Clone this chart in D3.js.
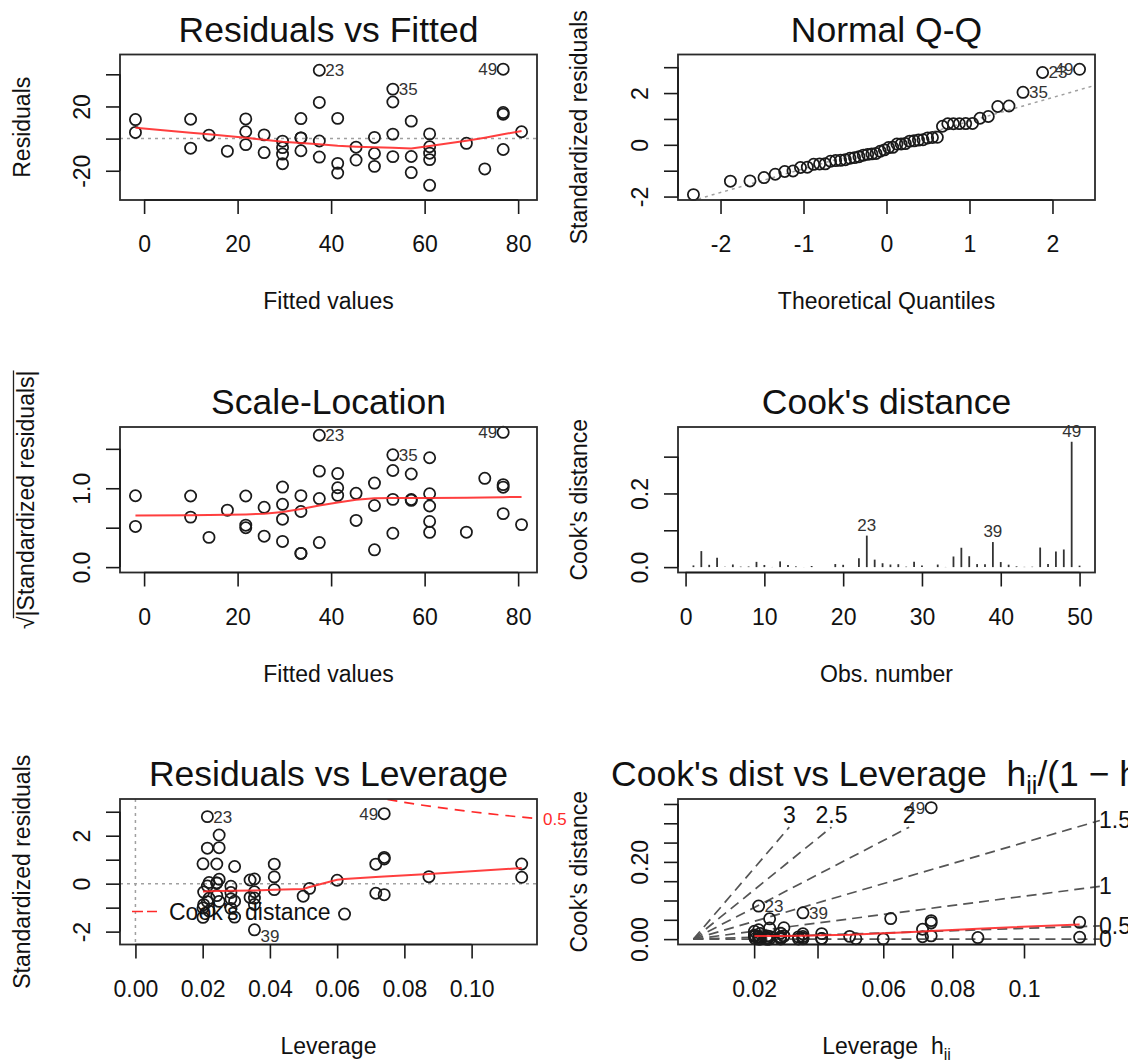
<!DOCTYPE html>
<html><head><meta charset="utf-8">
<script src="https://cdn.jsdelivr.net/npm/d3@7"></script>
<style>body{margin:0;background:#fff}svg{display:block}</style>
</head><body>
<script>
// ---------------- data: diagnostics of lm(dist ~ speed) on 50 observations ----------------
const obsNumber = [1,2,3,4,5,6,7,8,9,10,11,12,13,14,15,16,17,18,19,20,21,22,23,24,25,26,27,28,29,30,31,32,33,34,35,36,37,38,39,40,41,42,43,44,45,46,47,48,49,50];
const fittedValues = [-1.849,-1.849,9.948,9.948,13.880,17.813,21.745,21.745,21.745,25.677,25.677,29.610,29.610,29.610,29.610,33.542,33.542,33.542,33.542,37.475,37.475,37.475,37.475,41.407,41.407,41.407,45.339,45.339,49.272,49.272,49.272,53.204,53.204,53.204,53.204,57.137,57.137,57.137,61.069,61.069,61.069,61.069,61.069,68.934,72.866,76.799,76.799,76.799,76.799,80.731];
const residuals = [3.849,11.849,-5.948,12.052,2.120,-7.813,-3.745,4.255,12.255,-8.677,2.323,-15.610,-9.610,-5.610,-1.610,-7.542,0.458,0.458,12.458,-11.475,-1.475,22.525,42.525,-21.407,-15.407,12.593,-13.339,-5.339,-17.272,-9.272,0.728,-11.204,2.796,22.796,30.796,-21.137,-11.137,10.863,-29.069,-13.069,-9.069,-5.069,2.931,-2.934,-18.866,-6.799,15.201,16.201,43.201,4.269];
const stdResiduals = [0.266,0.819,-0.401,0.813,0.142,-0.521,-0.249,0.283,0.814,-0.574,0.154,-1.030,-0.634,-0.370,-0.106,-0.496,0.030,0.030,0.820,-0.754,-0.097,1.481,2.795,-1.406,-1.012,0.827,-0.876,-0.351,-1.136,-0.610,0.048,-0.738,0.184,1.501,2.028,-1.395,-0.735,0.717,-1.925,-0.865,-0.600,-0.336,0.194,-0.196,-1.267,-0.459,1.027,1.095,2.919,0.291];
const sqrtAbsStdResiduals = [0.516,0.905,0.634,0.902,0.377,0.722,0.499,0.532,0.902,0.758,0.392,1.015,0.796,0.608,0.326,0.705,0.174,0.174,0.906,0.869,0.311,1.217,1.672,1.186,1.006,0.910,0.936,0.592,1.066,0.781,0.219,0.859,0.429,1.225,1.424,1.181,0.857,0.847,1.387,0.930,0.775,0.579,0.441,0.443,1.126,0.678,1.014,1.046,1.709,0.539];
const leverage = [0.1149,0.1149,0.0715,0.0715,0.0600,0.0499,0.0413,0.0413,0.0413,0.0341,0.0341,0.0284,0.0284,0.0284,0.0284,0.0242,0.0242,0.0242,0.0242,0.0214,0.0214,0.0214,0.0214,0.0201,0.0201,0.0201,0.0203,0.0203,0.0219,0.0219,0.0219,0.0249,0.0249,0.0249,0.0249,0.0295,0.0295,0.0295,0.0354,0.0354,0.0354,0.0354,0.0354,0.0518,0.0622,0.0740,0.0740,0.0740,0.0740,0.0873];
const leverageRatio = [0.1298,0.1298,0.0770,0.0770,0.0638,0.0525,0.0431,0.0431,0.0431,0.0353,0.0353,0.0293,0.0293,0.0293,0.0293,0.0248,0.0248,0.0248,0.0248,0.0219,0.0219,0.0219,0.0219,0.0205,0.0205,0.0205,0.0207,0.0207,0.0224,0.0224,0.0224,0.0256,0.0256,0.0256,0.0256,0.0304,0.0304,0.0304,0.0368,0.0368,0.0368,0.0368,0.0368,0.0546,0.0663,0.0799,0.0799,0.0799,0.0799,0.0956];
const cooksDistance = [0.00459,0.04351,0.00620,0.02547,0.00064,0.00713,0.00133,0.00172,0.01426,0.00582,0.00042,0.01552,0.00588,0.00200,0.00017,0.00306,0.00001,0.00001,0.00834,0.00623,0.00010,0.02400,0.08555,0.02030,0.01051,0.00702,0.00794,0.00127,0.01442,0.00416,0.00003,0.00696,0.00043,0.02881,0.05257,0.02953,0.00820,0.00780,0.06806,0.01376,0.00662,0.00207,0.00069,0.00105,0.05317,0.00843,0.04214,0.04787,0.34040,0.00403];

// Normal Q-Q (sorted)
const qqTheoretical = [-2.3263,-1.8808,-1.6449,-1.4758,-1.3408,-1.2265,-1.1264,-1.0364,-0.9542,-0.8779,-0.8064,-0.7388,-0.6745,-0.6128,-0.5534,-0.4959,-0.4399,-0.3853,-0.3319,-0.2793,-0.2275,-0.1764,-0.1257,-0.0753,-0.0251,0.0251,0.0753,0.1257,0.1764,0.2275,0.2793,0.3319,0.3853,0.4399,0.4959,0.5534,0.6128,0.6745,0.7388,0.8064,0.8779,0.9542,1.0364,1.1264,1.2265,1.3408,1.4758,1.6449,1.8808,2.3263];
const qqSample = [-1.925,-1.406,-1.395,-1.267,-1.136,-1.030,-1.012,-0.876,-0.865,-0.754,-0.738,-0.735,-0.634,-0.610,-0.600,-0.574,-0.521,-0.496,-0.459,-0.401,-0.370,-0.351,-0.336,-0.249,-0.196,-0.106,-0.097,0.030,0.030,0.048,0.142,0.154,0.184,0.194,0.266,0.283,0.291,0.717,0.813,0.814,0.819,0.820,0.827,1.027,1.095,1.481,1.501,2.028,2.795,2.919];
const qqSampleObs = {47: 35, 48: 23, 49: 49};
const qqLineX = [-2.5124, 2.5124];
const qqLineY = [-2.3148, 2.2974];

// smoothers (red lines)
const smoothFittedX = [-1.849,9.948,13.880,17.813,21.745,25.677,29.610,33.542,37.475,41.407,45.339,49.272,53.204,57.137,61.069,68.934,72.866,76.799,80.731];
const smoothResiduals = [6.8,3.7,2.7,1.6,0.5,-0.7,-1.9,-2.7,-3.5,-4.4,-5.0,-5.4,-5.7,-6.1,-4.6,-1.3,0.6,2.7,4.7];
const smoothScale = [0.655,0.657,0.660,0.664,0.668,0.677,0.700,0.737,0.780,0.820,0.855,0.872,0.875,0.876,0.877,0.881,0.884,0.887,0.890];
const smoothLeverageX = [0.0201,0.0203,0.0214,0.0219,0.0242,0.0249,0.0284,0.0295,0.0341,0.0354,0.0413,0.0499,0.0518,0.0600,0.0622,0.0715,0.0740,0.0873,0.1149];
const smoothLeverageY = [-0.33,-0.33,-0.32,-0.32,-0.31,-0.31,-0.30,-0.30,-0.28,-0.28,-0.25,-0.22,-0.14,0.16,0.19,0.28,0.30,0.40,0.65];
const smoothRatioX = [0.0205,0.0207,0.0219,0.0224,0.0248,0.0256,0.0293,0.0304,0.0353,0.0368,0.0431,0.0525,0.0546,0.0638,0.0663,0.0770,0.0799,0.0956,0.1298];
const smoothRatioY = [0.008,0.008,0.008,0.008,0.008,0.008,0.008,0.008,0.009,0.009,0.010,0.011,0.012,0.015,0.016,0.020,0.021,0.027,0.038];

// Cook's distance 0.5 contour in residuals vs leverage
const cookContourH = [0.0700,0.0742,0.0800,0.0850,0.0900,0.0950,0.1000,0.1050,0.1100,0.1150,0.1195];
const cookContourR = [3.645,3.531,3.391,3.281,3.180,3.087,3.000,2.920,2.844,2.774,2.714];
const cookContourLabel = "0.5";
// standardized residual contours in Cook's dist vs leverage
const contourLevels = [0,0.5,1,1.5,2,2.5,3];
const contourSegmentEnd = 0.29;
const contourTopLabelD = 0.321;

// axis ticks and labels
const fittedTicks = [0,20,40,60,80], fittedTickLabels = ["0","20","40","60","80"];
const residTicks = [-20,0,20,40], residTickLabels = ["-20","","20",""];
const qqXTicks = [-2,-1,0,1,2], qqXTickLabels = ["-2","-1","0","1","2"];
const stdTicks = [-2,-1,0,1,2,3], stdTickLabels = ["-2","","0","","2",""];
const scaleTicks = [0,0.5,1,1.5], scaleTickLabels = ["0.0","","1.0",""];
const obsTicks = [0,10,20,30,40,50], obsTickLabels = ["0","10","20","30","40","50"];
const cookTicks = [0,0.1,0.2,0.3], cookTickLabels = ["0.0","","0.2",""];
const levTicks = [0,0.02,0.04,0.06,0.08,0.10], levTickLabels = ["0.00","0.02","0.04","0.06","0.08","0.10"];
const ratioTickPos = [0.0204,0.0417,0.0638,0.0870,0.1111], ratioTickLabels = ["0.02","","0.06","0.08","0.1"];
const cook6Ticks = [0,0.05,0.10,0.15,0.20,0.25,0.30,0.35], cook6TickLabels = ["0.00","","","","0.20","","",""];

// ---------------- layout ----------------
const W = 1128, H = 1061;
const FONT = "'Liberation Sans', Arial, Helvetica, sans-serif";
const cols = [{x0:120, x1:537}, {x0:678, x1:1095}];
const rows = [{y0:54.5, y1:200}, {y0:427, y1:572.5}, {y0:799, y1:944.5}];
const INK = "#1a1a1a", RED = "#ff2a2a", GRAY = "#a0a0a0";
const TITLE_SIZE = 35.5;

const svg = d3.select("body").append("svg").attr("width", W).attr("height", H)
  .style("font-family", FONT);
const defs = svg.append("defs");

function panel(col, row, xDom, yDom, id, extraRight) {
  const c = cols[col], r = rows[row];
  const x = d3.scaleLinear().domain(xDom).range([c.x0, c.x1]);
  const y = d3.scaleLinear().domain(yDom).range([r.y1, r.y0]);
  defs.append("clipPath").attr("id", id).append("rect")
    .attr("x", c.x0).attr("y", r.y0).attr("width", c.x1 - c.x0 + (extraRight || 0)).attr("height", r.y1 - r.y0);
  const g = svg.append("g");
  return {x, y, c, r, g, clip: `url(#${id})`};
}

function axes(p, xt, xl, yt, yl) {
  const xa = p.g.append("g").attr("transform", `translate(0,${p.r.y1})`)
    .call(d3.axisBottom(p.x).tickValues(xt).tickFormat((d, i) => xl[i]).tickSize(14).tickSizeOuter(0));
  xa.select(".domain").remove();
  xa.attr("font-size", 23).attr("font-family", FONT);
  xa.selectAll("line").attr("stroke", INK).attr("stroke-width", 1.6);
  xa.selectAll("text").attr("y", 52).attr("dy", null).attr("fill", "#111");
  const ya = p.g.append("g").attr("transform", `translate(${p.c.x0},0)`)
    .call(d3.axisLeft(p.y).tickValues(yt).tickFormat((d, i) => yl[i]).tickSize(14).tickSizeOuter(0));
  ya.select(".domain").remove();
  ya.attr("font-size", 23).attr("font-family", FONT);
  ya.selectAll("line").attr("stroke", INK).attr("stroke-width", 1.6);
  ya.selectAll("text").attr("transform", "rotate(-90)").attr("x", 0).attr("y", -30)
    .attr("dy", null).attr("text-anchor", "middle").attr("fill", "#111");
  p.g.append("line").attr("x1", p.x(xt[0])).attr("x2", p.x(xt[xt.length-1]))
    .attr("y1", p.r.y1).attr("y2", p.r.y1).attr("stroke", INK).attr("stroke-width", 1.6);
  p.g.append("line").attr("y1", p.y(yt[0])).attr("y2", p.y(yt[yt.length-1]))
    .attr("x1", p.c.x0).attr("x2", p.c.x0).attr("stroke", INK).attr("stroke-width", 1.6);
}

function box(p) {
  p.g.append("rect").attr("x", p.c.x0).attr("y", p.r.y0)
    .attr("width", p.c.x1 - p.c.x0).attr("height", p.r.y1 - p.r.y0)
    .attr("fill", "none").attr("stroke", "#2a2a2a").attr("stroke-width", 1.8);
}

function mainTitle(p, txt) {
  return p.g.append("text").attr("x", (p.c.x0 + p.c.x1) / 2).attr("y", p.r.y0 - 13)
    .attr("text-anchor", "middle").attr("font-size", TITLE_SIZE).attr("fill", "#111").text(txt);
}
function xTitle(p, txt) {
  return p.g.append("text").attr("x", (p.c.x0 + p.c.x1) / 2).attr("y", p.r.y1 + 109)
    .attr("text-anchor", "middle").attr("font-size", 23).attr("fill", "#111").text(txt);
}
function yTitle(p, txt, off) {
  return p.g.append("g").attr("transform", `translate(${p.c.x0 - (off || 90)},${(p.r.y0 + p.r.y1) / 2}) rotate(-90)`)
    .append("text").attr("x", 0).attr("y", 0).attr("text-anchor", "middle")
    .attr("font-size", 23).attr("fill", "#111").text(txt);
}

function circles(p, xs, ys) {
  p.g.append("g").selectAll("circle").data(xs).join("circle")
    .attr("cx", (d) => p.x(d)).attr("cy", (d, i) => p.y(ys[i])).attr("r", 5.6)
    .attr("fill", "none").attr("stroke", INK).attr("stroke-width", 1.75);
}

function idLabel(p, xv, yv, txt, side, dyExtra) {
  const t = p.g.append("text").attr("font-size", 17).attr("fill", "#333")
    .attr("y", p.y(yv) + 6 + (dyExtra || 0)).text(txt);
  if (side === "right") t.attr("x", p.x(xv) + 6).attr("text-anchor", "start");
  else if (side === "left") t.attr("x", p.x(xv) - 6).attr("text-anchor", "end");
  else t.attr("x", p.x(xv)).attr("y", p.y(yv) - 5).attr("text-anchor", "middle");
}

function smooth(p, xs, ys) {
  p.g.append("path").attr("clip-path", p.clip)
    .attr("d", d3.line().x((d) => p.x(d)).y((d, i) => p.y(ys[i]))(xs))
    .attr("fill", "none").attr("stroke", RED).attr("stroke-width", 2).attr("stroke-opacity", 0.9);
}

function hline(p, v, dash, color) {
  p.g.append("line").attr("x1", p.c.x0).attr("x2", p.c.x1).attr("y1", p.y(v)).attr("y2", p.y(v))
    .attr("stroke", color).attr("stroke-width", 1.5).attr("stroke-dasharray", dash);
}

const idx = (o) => o - 1;

// ---------------- 1. Residuals vs Fitted ----------------
{
  const p = panel(0, 0, [-5.153, 84.034], [-38.20, 52.33], "c1");
  hline(p, 0, "3,4", GRAY);
  circles(p, fittedValues, residuals);
  smooth(p, smoothFittedX, smoothResiduals);
  box(p);
  axes(p, fittedTicks, fittedTickLabels, residTicks, residTickLabels);
  mainTitle(p, "Residuals vs Fitted"); xTitle(p, "Fitted values"); yTitle(p, "Residuals");
  [[23, "right"], [35, "right"], [49, "left"]].forEach(([o, s]) =>
    idLabel(p, fittedValues[idx(o)], residuals[idx(o)], String(o), s));
}

// ---------------- 2. Normal Q-Q ----------------
{
  const p = panel(1, 0, [-2.5124, 2.5124], [-2.1328, 3.4906], "c2");
  p.g.append("line").attr("clip-path", p.clip)
    .attr("x1", p.x(qqLineX[0])).attr("y1", p.y(qqLineY[0])).attr("x2", p.x(qqLineX[1])).attr("y2", p.y(qqLineY[1]))
    .attr("stroke", GRAY).attr("stroke-width", 1.5).attr("stroke-dasharray", "3,4");
  circles(p, qqTheoretical, qqSample);
  box(p);
  axes(p, qqXTicks, qqXTickLabels, stdTicks, stdTickLabels);
  mainTitle(p, "Normal Q-Q"); xTitle(p, "Theoretical Quantiles"); yTitle(p, "Standardized residuals", 91);
  [[47, "right"], [48, "right"], [49, "left"]].forEach(([k, s]) =>
    idLabel(p, qqTheoretical[k], qqSample[k], String(qqSampleObs[k]), s));
}

// ---------------- 3. Scale-Location ----------------
{
  const p = panel(0, 1, [-5.153, 84.034], [-0.0683, 1.7768], "c3");
  circles(p, fittedValues, sqrtAbsStdResiduals);
  smooth(p, smoothFittedX, smoothScale);
  box(p);
  axes(p, fittedTicks, fittedTickLabels, scaleTicks, scaleTickLabels);
  mainTitle(p, "Scale-Location"); xTitle(p, "Fitted values");
  const t = yTitle(p, "\u221A|Standardized residuals|", 86);
  const full = t.node().getComputedTextLength();
  const tmp = p.g.append("text").attr("font-size", 23).text("\u221A");
  const sw = tmp.node().getComputedTextLength(); tmp.remove();
  d3.select(t.node().parentNode).append("line")
    .attr("x1", -full / 2 + sw * 0.85).attr("x2", full / 2).attr("y1", -20.5).attr("y2", -20.5)
    .attr("stroke", "#222").attr("stroke-width", 1.3);
  [[23, "right"], [35, "right"], [49, "left"]].forEach(([o, s]) =>
    idLabel(p, fittedValues[idx(o)], sqrtAbsStdResiduals[idx(o)], String(o), s));
}

// ---------------- 4. Cook's distance ----------------
{
  const p = panel(1, 1, [-0.96, 51.96], [-0.01464, 0.3805], "c4");
  p.g.append("g").selectAll("line").data(obsNumber).join("line")
    .attr("x1", (d) => p.x(d)).attr("x2", (d) => p.x(d))
    .attr("y1", p.y(0)).attr("y2", (d, i) => p.y(cooksDistance[i]))
    .attr("stroke", "#333").attr("stroke-width", 1.8);
  box(p);
  axes(p, obsTicks, obsTickLabels, cookTicks, cookTickLabels);
  mainTitle(p, "Cook's distance"); xTitle(p, "Obs. number"); yTitle(p, "Cook's distance", 91);
  [23, 39, 49].forEach((o) => idLabel(p, obsNumber[idx(o)], cooksDistance[idx(o)], String(o), "above"));
}

// ---------------- 5. Residuals vs Leverage ----------------
{
  const p = panel(0, 2, [-0.00459, 0.11945], [-2.537, 3.531], "c5");
  hline(p, 0, "3,4", GRAY);
  p.g.append("line").attr("x1", p.x(0)).attr("x2", p.x(0)).attr("y1", p.r.y0).attr("y2", p.r.y1)
    .attr("stroke", GRAY).attr("stroke-width", 1.5).attr("stroke-dasharray", "3,4");
  circles(p, leverage, stdResiduals);
  smooth(p, smoothLeverageX, smoothLeverageY);
  p.g.append("path").attr("clip-path", p.clip)
    .attr("d", d3.line().x((d) => p.x(d)).y((d, i) => p.y(cookContourR[i]))(cookContourH))
    .attr("fill", "none").attr("stroke", RED).attr("stroke-width", 1.7).attr("stroke-dasharray", "10,7");
  p.g.append("text").attr("x", p.c.x1 + 6).attr("y", p.y(cookContourR[cookContourR.length - 1]) + 6)
    .attr("font-size", 17).attr("fill", RED).text(cookContourLabel);
  box(p);
  axes(p, levTicks, levTickLabels, stdTicks, stdTickLabels);
  mainTitle(p, "Residuals vs Leverage"); xTitle(p, "Leverage"); yTitle(p, "Standardized residuals");
  const ly = p.r.y1 - 33;
  p.g.append("line").attr("x1", p.c.x0 + 12).attr("x2", p.c.x0 + 37).attr("y1", ly).attr("y2", ly)
    .attr("stroke", RED).attr("stroke-width", 1.7).attr("stroke-dasharray", "11,4");
  p.g.append("text").attr("x", p.c.x0 + 49).attr("y", ly + 8).attr("font-size", 23).attr("fill", "#111")
    .text("Cook's distance");
  [[23, "right", 0], [49, "left", 0], [39, "right", 6]].forEach(([o, s, dy]) =>
    idLabel(p, leverage[idx(o)], stdResiduals[idx(o)], String(o), s, dy));
}

// ---------------- 6. Cook's dist vs Leverage ----------------
{
  const xDom = [-0.00519, 0.13496], yDom = [-0.01396, 0.3629];
  const p = panel(1, 2, xDom, yDom, "c6", 5);
  const xmax = xDom[1], ymax = yDom[1];
  contourLevels.forEach((b) => {
    const s = b * b;
    if (s * xmax < ymax) {
      const xe = xmax * 1.012;
      p.g.append("line").attr("clip-path", p.clip)
        .attr("x1", p.x(0)).attr("y1", p.y(0)).attr("x2", p.x(xe)).attr("y2", p.y(s * xe))
        .attr("stroke", "#555").attr("stroke-width", 1.7).attr("stroke-dasharray", "10,6");
      p.g.append("text").attr("x", p.c.x1 + 4).attr("y", p.y(s * xe) + 8)
        .attr("font-size", 23).attr("fill", "#111").text(String(b));
    } else {
      const xe = contourSegmentEnd / s;
      p.g.append("line").attr("clip-path", p.clip)
        .attr("x1", p.x(0)).attr("y1", p.y(0)).attr("x2", p.x(xe)).attr("y2", p.y(contourSegmentEnd))
        .attr("stroke", "#555").attr("stroke-width", 1.7).attr("stroke-dasharray", "10,6");
      p.g.append("text").attr("x", p.x(xe)).attr("y", p.y(contourTopLabelD) + 8)
        .attr("text-anchor", "middle").attr("font-size", 23).attr("fill", "#111").text(String(b));
    }
  });
  circles(p, leverageRatio, cooksDistance);
  smooth(p, smoothRatioX, smoothRatioY);
  box(p);
  axes(p, ratioTickPos, ratioTickLabels, cook6Ticks, cook6TickLabels);
  const mt = mainTitle(p, null);
  mt.append("tspan").text("Cook's dist vs Leverage\u00a0\u00a0h");
  mt.append("tspan").attr("dy", 8).attr("font-size", 25).text("ii");
  mt.append("tspan").attr("dy", -8).text("/(1 \u2212 h");
  mt.append("tspan").attr("dy", 8).attr("font-size", 25).text("ii");
  mt.append("tspan").attr("dy", -8).text(")");
  const xt = xTitle(p, null);
  xt.append("tspan").text("Leverage\u00a0\u00a0h");
  xt.append("tspan").attr("dy", 6).attr("font-size", 16).text("ii");
  yTitle(p, "Cook's distance", 91);
  [[23, "right"], [39, "right"], [49, "left"]].forEach(([o, s]) =>
    idLabel(p, leverageRatio[idx(o)], cooksDistance[idx(o)], String(o), s));
}
</script>
</body></html>
